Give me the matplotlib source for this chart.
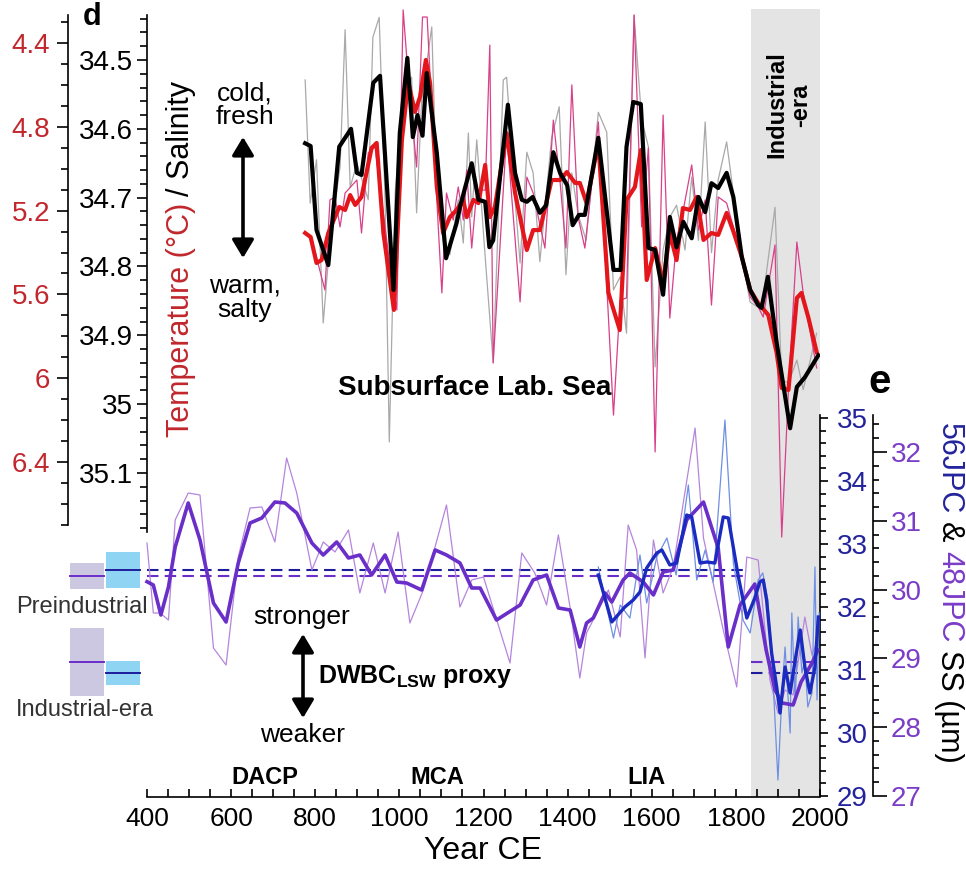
import matplotlib
matplotlib.use('Agg')
import numpy as np
import matplotlib.pyplot as plt
from matplotlib.patches import Rectangle, FancyArrowPatch
from matplotlib.transforms import blended_transform_factory
from matplotlib.ticker import MultipleLocator

plt.rcParams['font.family'] = ['Liberation Sans', 'DejaVu Sans']
plt.rcParams['mathtext.fontset'] = 'custom'
plt.rcParams['mathtext.rm'] = 'Liberation Sans'
plt.rcParams['mathtext.bf'] = 'Liberation Sans:bold'

# ---------------- data ----------------
# panel d: subsurface Labrador Sea salinity (black = smoothed, grey = raw)
sal_smooth_yr = [776, 789, 803, 831, 857, 885, 899, 910, 938, 954,
                 986, 1001, 1019, 1032, 1043, 1055, 1065, 1089, 1111, 1136,
                 1144, 1156, 1172, 1188, 1204, 1214, 1223, 1258, 1275, 1291,
                 1303, 1317, 1334, 1349, 1366, 1382, 1399, 1412, 1427, 1441,
                 1473, 1509, 1526, 1540, 1556, 1574, 1592, 1608, 1627, 1643,
                 1659, 1675, 1695, 1711, 1727, 1742, 1758, 1778, 1794, 1814,
                 1834, 1853, 1861, 1876, 1897, 1929, 1945, 1964, 1996]
sal_smooth = [34.621, 34.625, 34.747, 34.798, 34.626, 34.600, 34.664, 34.667, 34.533, 34.523,
              34.834, 34.606, 34.497, 34.612, 34.580, 34.610, 34.519, 34.635, 34.788, 34.737,
              34.714, 34.686, 34.650, 34.703, 34.706, 34.772, 34.762, 34.565, 34.664, 34.703,
              34.706, 34.699, 34.722, 34.711, 34.634, 34.664, 34.682, 34.740, 34.725, 34.725,
              34.613, 34.805, 34.805, 34.626, 34.561, 34.564, 34.773, 34.776, 34.841, 34.728,
              34.772, 34.735, 34.759, 34.699, 34.721, 34.679, 34.686, 34.664, 34.699, 34.786,
              34.834, 34.856, 34.860, 34.815, 34.911, 35.035, 34.975, 34.961, 34.929]

sal_raw_yr = [776, 788, 803, 819, 835, 859, 871, 883, 899, 926,
              937, 952, 966, 976, 990, 1009, 1029, 1041, 1053, 1077,
              1089, 1104, 1120, 1140, 1152, 1164, 1172, 1184, 1204, 1223,
              1247, 1255, 1275, 1287, 1303, 1318, 1334, 1362, 1380, 1396,
              1410, 1425, 1444, 1473, 1493, 1509, 1525, 1540, 1558, 1576,
              1592, 1608, 1627, 1643, 1659, 1679, 1695, 1711, 1727, 1742,
              1758, 1778, 1794, 1814, 1834, 1853, 1861, 1893, 1909, 1925,
              1945, 1960, 1992]
sal_raw = [34.529, 34.708, 34.645, 34.882, 34.762, 34.655, 34.456, 34.685, 34.650, 34.703,
           34.467, 34.438, 34.703, 35.055, 34.693, 34.558, 34.525, 34.722, 34.558, 34.452,
           34.699, 34.762, 34.783, 34.703, 34.766, 34.606, 34.728, 34.616, 34.786, 34.940,
           34.529, 34.525, 34.703, 34.795, 34.634, 34.664, 34.793, 34.613, 34.568, 34.812,
           34.664, 34.725, 34.762, 34.576, 34.605, 34.834, 34.815, 34.897, 34.435, 34.587,
           34.626, 34.946, 34.776, 34.728, 34.711, 34.776, 34.670, 34.762, 34.590, 34.780,
           34.674, 34.619, 34.693, 34.786, 34.852, 34.859, 34.863, 34.714, 34.965, 34.969,
           34.936, 34.979, 34.897]

# panel d: temperature (red = smoothed, pink = raw)
temp_smooth_yr = [776, 789, 803, 815, 831, 857, 871, 883, 895, 910,
                  934, 946, 962, 987, 1006, 1021, 1037, 1049, 1063, 1073,
                  1089, 1104, 1120, 1136, 1152, 1160, 1176, 1188, 1204, 1215,
                  1227, 1255, 1275, 1303, 1318, 1334, 1362, 1382, 1398, 1418,
                  1429, 1445, 1473, 1497, 1524, 1540, 1560, 1574, 1588, 1608,
                  1627, 1643, 1659, 1674, 1691, 1707, 1723, 1742, 1758, 1778,
                  1793, 1814, 1834, 1853, 1861, 1877, 1897, 1909, 1925, 1945,
                  1956, 1972, 1992]
temp_smooth = [5.307, 5.326, 5.450, 5.436, 5.307, 5.183, 5.197, 5.126, 5.173, 5.135,
               4.901, 4.877, 5.307, 5.674, 4.863, 4.586, 4.729, 4.658, 4.481, 4.591,
               5.087, 5.307, 5.231, 5.197, 5.149, 5.231, 5.149, 5.164, 4.982, 5.231,
               5.183, 4.830, 5.116, 5.388, 5.293, 5.293, 5.054, 5.054, 5.016, 5.068,
               5.068, 5.164, 4.877, 5.593, 5.770, 5.149, 5.087, 4.911, 5.531, 5.379,
               5.546, 5.307, 5.436, 5.188, 5.197, 5.135, 5.340, 5.307, 5.316, 5.211,
               5.293, 5.421, 5.579, 5.641, 5.660, 5.698, 5.880, 6.047, 6.056, 5.617,
               5.593, 5.708, 5.875]

temp_raw_yr = [776, 792, 823, 835, 847, 859, 871, 899, 910, 926,
               942, 978, 994, 1009, 1021, 1041, 1055, 1066, 1077, 1089,
               1101, 1112, 1128, 1140, 1152, 1160, 1172, 1184, 1204, 1215,
               1223, 1255, 1287, 1303, 1318, 1346, 1366, 1382, 1396, 1410,
               1425, 1441, 1473, 1509, 1525, 1540, 1558, 1576, 1592, 1608,
               1627, 1643, 1659, 1675, 1695, 1711, 1727, 1742, 1758, 1778,
               1794, 1814, 1834, 1853, 1865, 1893, 1909, 1925, 1945, 1960,
               1992]
temp_raw = [5.302, 5.340, 5.579, 5.149, 5.135, 5.278, 5.116, 5.054, 5.307, 4.925,
            4.896, 5.469, 5.674, 4.242, 4.562, 4.992, 4.276, 4.276, 4.720, 5.149,
            5.593, 5.116, 5.245, 5.087, 5.245, 5.006, 5.379, 5.102, 5.102, 4.410,
            5.927, 4.830, 5.636, 5.040, 5.116, 5.379, 4.768, 5.063, 5.379, 4.600,
            5.231, 5.379, 4.777, 6.176, 5.627, 5.617, 4.266, 5.278, 4.901, 6.352,
            4.744, 5.713, 5.340, 5.197, 4.982, 5.293, 5.149, 5.651, 5.135, 5.164,
            5.278, 5.426, 5.612, 5.660, 5.708, 5.364, 6.758, 6.056, 5.350, 5.593,
            5.951]

# panel e: 48JPC sortable silt (purple)
ss48_smooth_yr = [400, 415, 433, 451, 467, 498, 526, 558, 588, 617,
                  645, 673, 704, 728, 756, 792, 819, 851, 879, 906,
                  934, 966, 994, 1017, 1053, 1085, 1112, 1144, 1172, 1192,
                  1231, 1287, 1318, 1350, 1378, 1406, 1429, 1445, 1461, 1489,
                  1505, 1532, 1548, 1580, 1604, 1627, 1651, 1683, 1723, 1758,
                  1782, 1810, 1845, 1872, 1893, 1910, 1936, 1955, 1981, 1995]
ss48_smooth = [30.115, 30.067, 29.631, 30.038, 30.619, 31.259, 30.721, 29.805, 29.529, 30.387,
               30.968, 31.041, 31.273, 31.259, 31.113, 30.677, 30.503, 30.692, 30.459, 30.503,
               30.212, 30.503, 30.110, 30.096, 29.994, 30.576, 30.503, 30.387, 30.023, 30.023,
               29.558, 29.776, 30.140, 30.212, 29.733, 29.703, 29.166, 29.515, 29.587, 29.951,
               29.820, 30.140, 30.241, 30.110, 29.922, 30.256, 30.285, 31.012, 31.273, 30.605,
               29.166, 29.776, 30.081, 29.122, 28.541, 28.352, 28.323, 28.657, 28.933, 29.122]

ss48_raw_yr = [400, 415, 431, 451, 467, 498, 526, 558, 588, 617,
               645, 673, 704, 732, 756, 792, 819, 847, 879, 906,
               938, 966, 997, 1025, 1057, 1112, 1144, 1172, 1200, 1263,
               1291, 1322, 1350, 1378, 1406, 1429, 1445, 1497, 1525, 1544,
               1564, 1584, 1604, 1627, 1651, 1703, 1723, 1746, 1770, 1802,
               1826, 1853, 1881, 1900, 1917, 1936, 1964, 1981, 1995]
ss48_raw = [30.677, 29.660, 29.660, 29.558, 31.012, 31.404, 31.375, 29.151, 28.904, 30.474,
            31.186, 31.201, 30.692, 31.913, 31.404, 30.285, 30.692, 30.547, 30.866, 29.951,
            30.677, 29.951, 30.837, 29.515, 29.994, 31.230, 29.747, 30.140, 30.183, 28.933,
            30.532, 30.241, 29.776, 30.794, 29.733, 28.715, 29.369, 29.994, 29.311, 30.939,
            30.576, 29.006, 30.721, 29.951, 30.328, 32.349, 30.750, 30.096, 29.413, 28.584,
            30.474, 30.430, 28.686, 28.206, 28.541, 28.468, 29.602, 29.049, 29.267]

# panel e: 56JPC sortable silt (blue)
ss56_smooth_yr = [1473, 1505, 1536, 1556, 1572, 1588, 1612, 1624, 1643, 1659,
                  1683, 1695, 1715, 1731, 1750, 1770, 1782, 1806, 1826, 1845,
                  1857, 1865, 1873, 1885, 1897, 1905, 1917, 1929, 1941, 1953,
                  1964, 1976, 1988, 1996]
ss56_smooth = [32.508, 31.762, 32.000, 32.111, 32.238, 32.619, 32.857, 32.905, 32.667, 32.698,
               33.460, 33.429, 32.698, 32.714, 32.698, 33.429, 33.413, 32.476, 31.825, 32.143,
               32.397, 32.429, 32.111, 31.270, 30.730, 30.317, 31.048, 30.635, 31.159, 31.635,
               31.048, 30.635, 31.048, 31.841]

ss56_raw_yr = [1473, 1489, 1509, 1525, 1548, 1572, 1588, 1612, 1636, 1658,
               1687, 1707, 1727, 1746, 1774, 1794, 1817, 1834, 1853, 1864,
               1876, 1888, 1900, 1910, 1917, 1929, 1933, 1941, 1948, 1957,
               1964, 1971, 1981, 1988, 1993, 1998]
ss56_raw = [32.635, 32.111, 31.508, 32.032, 31.825, 32.825, 32.063, 32.794, 33.095, 32.508,
            33.937, 32.429, 32.905, 32.397, 34.968, 32.698, 31.794, 31.587, 32.429, 32.540,
            32.111, 30.889, 29.254, 30.683, 31.365, 30.000, 31.905, 30.476, 31.841, 30.952,
            31.159, 30.413, 30.635, 32.635, 30.524, 31.905]

# period means (dashed lines) and their spread (boxes at left)
periods = ['Preindustrial', 'Industrial-era']
period_start = [400, 1835]
period_end = [1826, 2000]
mean56 = [32.587, 30.952]
err56 = [0.29, 0.19]
mean48 = [30.198, 28.948]
err48 = [0.19, 0.50]

industrial_start = 1835
era_names = ['DACP', 'MCA', 'LIA']
era_centre = [680, 1090, 1587]

# ---------------- colours ----------------
c_red, c_pink, c_grey = '#e3161b', '#d8408a', '#a9a9a9'
c_pur, c_pur_l = '#6a2ec9', '#b585dc'
c_blu, c_blu_l, c_navy = '#1b2bbf', '#6e8fe3', '#1c1c9c'
lab_red, lab_blu, lab_pur = '#c1272d', '#23239c', '#7b3cc8'

W, H = 966, 869
fig = plt.figure(figsize=(W / 100, H / 100), dpi=100)


def rect(l, t, r, b):
    return [l / W, 1 - b / H, (r - l) / W, (b - t) / H]


def fx(x):
    return x / W


def fy(y):
    return 1 - y / H


X0, X1 = 147, 820

# base axes: shading + year axis
ax0 = fig.add_axes(rect(X0, 9, X1, 797))
ax0.set_xlim(400, 2000)
ax0.set_ylim(0, 1)
ax0.axvspan(industrial_start, 2000, facecolor='#e4e4e4', edgecolor='none')
for s in ['left', 'right', 'top']:
    ax0.spines[s].set_visible(False)
ax0.spines['bottom'].set_linewidth(1.2)
ax0.yaxis.set_visible(False)
ax0.xaxis.set_major_locator(MultipleLocator(200))
ax0.xaxis.set_minor_locator(MultipleLocator(50))
ax0.tick_params(axis='x', which='both', direction='in', length=6, width=1.2,
                labelsize=19, pad=7)

# temperature axis (outer left)
ax_t = fig.add_axes(rect(X0, 0, X1, 797))
ax_t.set_facecolor('none')
ax_t.set_xlim(400, 2000)
ax_t.set_ylim(4.4 + (797 - 43) / 209.5, 4.4 - 43 / 209.5)
for s in ['right', 'top', 'bottom']:
    ax_t.spines[s].set_visible(False)
ax_t.xaxis.set_visible(False)
ax_t.spines['left'].set_position(('axes', (68 - X0) / (X1 - X0)))
ax_t.spines['left'].set_bounds(4.4 - 28 / 209.5, 4.4 + 482 / 209.5)
ax_t.spines['left'].set_linewidth(1.2)
ax_t.set_yticks([4.4, 4.8, 5.2, 5.6, 6.0, 6.4], ['4.4', '4.8', '5.2', '5.6', '6', '6.4'])
ax_t.set_yticks(np.round(np.arange(4.3, 6.71, 0.1), 2), minor=True)
ax_t.tick_params(axis='y', which='major', length=8, width=1.2, labelsize=20,
                 labelcolor=lab_red, pad=5)
ax_t.tick_params(axis='y', which='minor', length=5, width=1.2)

# salinity axis (inner left) - holds all panel d curves
ax_s = fig.add_axes(rect(X0, 0, X1, 797))
ax_s.set_facecolor('none')
for s in ['right', 'top', 'bottom']:
    ax_s.spines[s].set_visible(False)
ax_s.xaxis.set_visible(False)
ax_s.spines['left'].set_linewidth(1.2)

ax_s.plot(sal_raw_yr, sal_raw, color=c_grey, lw=0.9, zorder=2)
ax_s.plot(temp_raw_yr, temp_raw, color=c_pink, lw=0.9, zorder=3, transform=ax_t.transData)
ax_s.plot(temp_smooth_yr, temp_smooth, color=c_red, lw=3.0, zorder=4, transform=ax_t.transData)
ax_s.plot(sal_smooth_yr, sal_smooth, color='black', lw=3.0, zorder=5)
ax_s.set_xlim(400, 2000)
ax_s.set_ylim(34.5 + (797 - 60) / 688.3, 34.5 - 60 / 688.3)
ax_s.spines['left'].set_bounds(34.5 - 45 / 688.3, 34.5 + 472 / 688.3)
ax_s.set_yticks([34.5, 34.6, 34.7, 34.8, 34.9, 35.0, 35.1],
                ['34.5', '34.6', '34.7', '34.8', '34.9', '35', '35.1'])
ax_s.set_yticks(np.round(np.arange(34.44, 35.181, 0.02), 3), minor=True)
ax_s.tick_params(axis='y', which='major', length=7, width=1.2, labelsize=20, pad=3)
ax_s.tick_params(axis='y', which='minor', length=5, width=1.2)

# 48JPC axis (outer right)
ax_c = fig.add_axes(rect(X0, 415, X1, 796))
ax_c.set_facecolor('none')
ax_c.set_xlim(400, 2000)
ax_c.set_ylim(27, 27 + 381 / 68.8)
for s in ['left', 'top', 'bottom']:
    ax_c.spines[s].set_visible(False)
ax_c.xaxis.set_visible(False)
ax_c.yaxis.tick_right()
ax_c.spines['right'].set_position(('axes', 1 + (873 - X1) / (X1 - X0)))
ax_c.spines['right'].set_linewidth(1.2)
ax_c.set_yticks([27, 28, 29, 30, 31, 32])
ax_c.set_yticks(np.round(np.arange(27, 32.55, 0.2), 2), minor=True)
ax_c.tick_params(axis='y', which='major', length=10, width=1.2, labelsize=20,
                 labelcolor=lab_pur, pad=3)
ax_c.tick_params(axis='y', which='minor', length=4, width=1.2)

# 56JPC axis (inner right) - holds all panel e curves
ax_b = fig.add_axes(rect(X0, 415, X1, 796))
ax_b.set_facecolor('none')
for s in ['left', 'top', 'bottom']:
    ax_b.spines[s].set_visible(False)
ax_b.xaxis.set_visible(False)
ax_b.yaxis.tick_right()
ax_b.spines['right'].set_linewidth(1.2)

for i in range(2):
    ax_b.plot([period_start[i], period_end[i]], [mean48[i]] * 2, color=c_pur, lw=1.5,
              ls=(0, (5.5, 3)), zorder=2, transform=ax_c.transData)
    ax_b.plot([period_start[i], period_end[i]], [mean56[i]] * 2, color=c_navy, lw=1.5,
              ls=(0, (5.5, 3)), zorder=2)
ax_b.plot(ss48_raw_yr, ss48_raw, color=c_pur_l, lw=0.9, zorder=3, clip_on=False,
          transform=ax_c.transData)
ax_b.plot(ss56_raw_yr, ss56_raw, color=c_blu_l, lw=0.9, zorder=3, clip_on=False)
ax_b.plot(ss48_smooth_yr, ss48_smooth, color=c_pur, lw=2.6, zorder=4, clip_on=False,
          transform=ax_c.transData)
ax_b.plot(ss56_smooth_yr, ss56_smooth, color=c_blu, lw=2.4, zorder=5, clip_on=False)
ax_b.set_xlim(400, 2000)
ax_b.set_ylim(29, 35 + 3 / 63)
ax_b.set_yticks([29, 30, 31, 32, 33, 34, 35])
ax_b.set_yticks(np.round(np.arange(29, 35.05, 0.2), 2), minor=True)
ax_b.tick_params(axis='y', which='major', length=6, width=1.2, labelsize=20,
                 labelcolor=lab_blu, pad=6)
ax_b.tick_params(axis='y', which='minor', length=4, width=1.2)

# period boxes left of the plot (mean +/- spread)
tb = blended_transform_factory(ax_b.transAxes, ax_b.transData)
tc = blended_transform_factory(ax_c.transAxes, ax_c.transData)
xa = lambda p: (p - X0) / (X1 - X0)
for i in range(2):
    ax_c.add_patch(Rectangle((xa(70), mean48[i] - err48[i]), xa(104) - xa(70), 2 * err48[i],
                             transform=tc, facecolor='#cdc8e2', edgecolor='none', clip_on=False))
    ax_c.plot([xa(70), xa(104)], [mean48[i]] * 2, transform=tc, color=c_pur, lw=1.4, clip_on=False)
    ax_b.add_patch(Rectangle((xa(106), mean56[i] - err56[i]), xa(140) - xa(106), 2 * err56[i],
                             transform=tb, facecolor='#8fd4f3', edgecolor='none', clip_on=False))
    ax_b.plot([xa(106), xa(140)], [mean56[i]] * 2, transform=tb, color=c_navy, lw=1.4, clip_on=False)

# ---------------- text ----------------
r = fig.canvas.get_renderer()

# left axis title, two colours, reading upward
t1 = fig.text(fx(189), fy(437), 'Temperature (°C)', rotation=90, rotation_mode='anchor',
              ha='left', va='baseline', color=lab_red, fontsize=22)
h1 = t1.get_window_extent(r).height
fig.text(fx(189), fy(437 - h1 - 7), '/ Salinity', rotation=90, rotation_mode='anchor',
         ha='left', va='baseline', color='black', fontsize=22)

# right axis title, reading downward
ypos = 423
for s, c in [('56JPC', lab_blu), ('&', 'black'), ('48JPC', lab_pur), ('SS (µm)', 'black')]:
    t = fig.text(fx(941), fy(ypos), s, rotation=270, rotation_mode='anchor',
                 ha='left', va='baseline', color=c, fontsize=22)
    ypos += t.get_window_extent(r).height + 8

fig.text(fx(245), fy(105), 'cold,\nfresh', ha='center', va='center', fontsize=19,
         linespacing=1.0)
fig.text(fx(245), fy(298), 'warm,\nsalty', ha='center', va='center', fontsize=19,
         linespacing=1.0)
fig.text(fx(338), fy(388), 'Subsurface Lab. Sea', ha='left', va='center', fontsize=20,
         weight='bold')
fig.text(fx(789), fy(105), 'Industrial\n-era', rotation=90, ha='center', va='center',
         multialignment='center', fontsize=17, weight='bold', linespacing=1.05)
fig.text(fx(92), fy(2), 'd', ha='center', va='top', fontsize=22, weight='bold')
fig.text(fx(880), fy(393), 'e', ha='center', va='baseline', fontsize=29, weight='bold')

fig.text(fx(82), fy(607), periods[0], ha='center', va='center', fontsize=17, color='#333333')
fig.text(fx(85), fy(710), periods[1], ha='center', va='center', fontsize=17, color='#333333')
fig.text(fx(302), fy(617), 'stronger', ha='center', va='center', fontsize=19)
fig.text(fx(303), fy(735), 'weaker', ha='center', va='center', fontsize=19)
fig.text(fx(318), fy(677), r'DWBC$_{\mathbf{LSW}}$ proxy', ha='left', va='center',
         fontsize=18, weight='bold')
era_tf = blended_transform_factory(ax0.transData, ax0.transAxes)
for name, yr in zip(era_names, era_centre):
    ax0.text(yr, (797 - 777) / (797 - 9), name, ha='center', va='center',
             fontsize=17, weight='bold', transform=era_tf)

fig.text(fx(483), fy(851), 'Year CE', ha='center', va='center', fontsize=23)

for (xa_, ya, yb) in [(243, 137, 258), (303, 634, 718)]:
    fig.add_artist(FancyArrowPatch((fx(xa_), fy(ya)), (fx(xa_), fy(yb)),
                                   transform=fig.transFigure,
                                   arrowstyle='<|-|>,head_length=0.55,head_width=0.33',
                                   mutation_scale=20, lw=2.6, color='black',
                                   shrinkA=0, shrinkB=0))

fig.savefig('out.png', dpi=100)
